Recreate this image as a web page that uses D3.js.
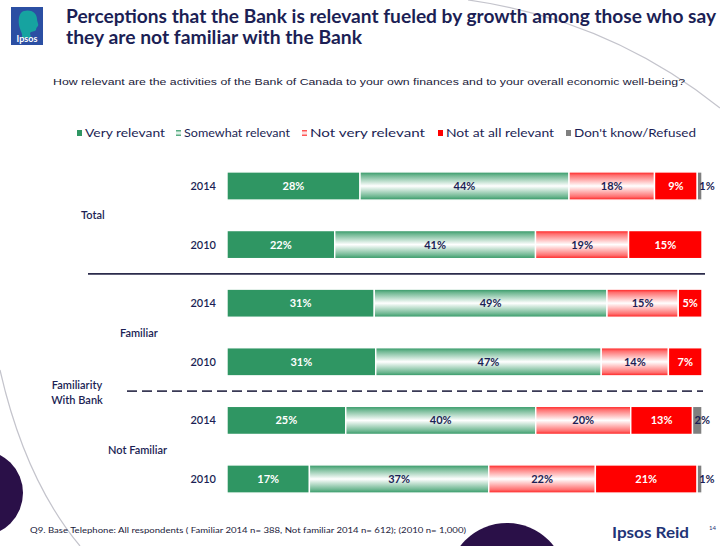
<!DOCTYPE html>
<html>
<head>
<meta charset="utf-8">
<script src="https://cdn.jsdelivr.net/npm/d3@7"></script>
<style>
  html, body { margin: 0; padding: 0; background: #ffffff; }
  svg { display: block; }
</style>
</head>
<body>
<svg id="chart" width="720" height="546"></svg>
<script>
// ---- data ----
const groups = ["Total", "Total", "Familiar", "Familiar", "Not Familiar", "Not Familiar"];
const years = ["2014", "2010", "2014", "2010", "2014", "2010"];
const seriesNames = ["Very relevant", "Somewhat relevant", "Not very relevant", "Not at all relevant", "Don't know/Refused"];
const veryRelevant = [28, 22, 31, 31, 25, 17];
const somewhatRelevant = [44, 41, 49, 47, 40, 37];
const notVeryRelevant = [18, 19, 15, 14, 20, 22];
const notAtAllRelevant = [9, 15, 5, 7, 13, 21];
const dontKnow = [1, 0, 0, 0, 2, 1];

const title1 = "Perceptions that the Bank  is relevant fueled by growth among those who say";
const title2 = "they are not familiar with the Bank";
const question = "How relevant  are the activities of the Bank of Canada to your own finances and to your overall economic well-being?";
const footnote = "Q9. Base Telephone: All respondents ( Familiar 2014 n= 388, Not familiar 2014 n= 612); (2010 n= 1,000)";

// ---- build rows ----
const keys = ["vr", "sr", "nv", "na", "dk"];
const rows = years.map((y, i) => ({
  id: i, group: groups[i], year: y,
  vr: veryRelevant[i], sr: somewhatRelevant[i], nv: notVeryRelevant[i],
  na: notAtAllRelevant[i], dk: dontKnow[i]
}));

const svg = d3.select("#chart");
const navy = "#1c1f55";
const green = "#2f9663";
const red = "#ff0000";
const grey = "#7f7f7f";

// ---- gradients for the banded fills ----
const defs = svg.append("defs");
function bandGradient(id, edge, mid) {
  const g = defs.append("linearGradient").attr("id", id)
    .attr("x1", 0).attr("y1", 0).attr("x2", 0).attr("y2", 1);
  [[0, edge], [0.12, edge], [0.5, mid], [0.88, edge], [1, edge]].forEach(([o, c]) => {
    g.append("stop").attr("offset", o).attr("stop-color", c);
  });
}
bandGradient("gSome", green, "#ffffff");
bandGradient("gNotVery", "#ff1a1a", "#ffffff");
// softer version of the edge ramp
defs.select("#gSome").selectAll("stop").filter((d, i) => i === 1 || i === 3).attr("stop-color", "#6cb690");
defs.select("#gNotVery").selectAll("stop").filter((d, i) => i === 1 || i === 3).attr("stop-color", "#ff7070");

const fills = { vr: green, sr: "url(#gSome)", nv: "url(#gNotVery)", na: red, dk: grey };
const labelColor = { vr: "#ffffff", sr: navy, nv: navy, na: "#ffffff", dk: navy };

// ---- background decoration ----
const deco = svg.append("g");
deco.append("path")
  .attr("d", "M468,0 Q610,20 720,108")
  .attr("fill", "none").attr("stroke", "#c4c4cc").attr("stroke-width", 1.2);
deco.append("path")
  .attr("d", "M0,370 Q25,480 80,546")
  .attr("fill", "none").attr("stroke", "#c4c4cc").attr("stroke-width", 1.2);
deco.append("circle").attr("cx", -20).attr("cy", 493).attr("r", 43).attr("fill", "#2a1048");
deco.append("circle").attr("cx", 507).attr("cy", 582).attr("r", 59).attr("fill", "#2a1048");

// ---- logo ----
const logo = svg.append("g");
logo.append("rect").attr("x", 11).attr("y", 7).attr("width", 32).attr("height", 38).attr("fill", "#2b4fa3");
logo.append("path")
  .attr("d", "M24,11 C30,9 37,12 37,19 C37,22 39,24 38,26 C37,27 36,28 36,30 C35,32 31,31 30,33 L31,38 L22,38 C23,33 20,31 19,25 C18,17 20,12 24,11 Z")
  .attr("fill", "#16a3a0");
logo.append("text").attr("x", 27).attr("y", 42)
  .attr("text-anchor", "middle")
  .attr("font-family", "Lato, sans-serif").attr("font-weight", "bold")
  .attr("font-size", 9).attr("fill", "#ffffff").text("Ipsos");

// ---- title and question ----
svg.append("text").attr("x", 66).attr("y", 23)
  .attr("font-family", "Lato, sans-serif").attr("font-weight", "bold")
  .attr("font-size", 18.5).attr("fill", navy)
  .attr("textLength", 650).attr("lengthAdjust", "spacingAndGlyphs")
  .text(title1);
svg.append("text").attr("x", 66).attr("y", 44)
  .attr("font-family", "Lato, sans-serif").attr("font-weight", "bold")
  .attr("font-size", 18.5).attr("fill", navy)
  .attr("textLength", 296).attr("lengthAdjust", "spacingAndGlyphs")
  .text(title2);
svg.append("text").attr("x", 53).attr("y", 85)
  .attr("font-family", "Liberation Sans, Arial, sans-serif")
  .attr("font-size", 9.5).attr("fill", "#1a1a3a")
  .attr("textLength", 632).attr("lengthAdjust", "spacingAndGlyphs")
  .text(question);

// ---- legend ----
const legendX = [77, 176, 302, 438, 566];
const legendW = [80, 106, 115, 108, 122];
const legendFill = [green, "url(#gSome)", "url(#gNotVery)", red, grey];
const legend = svg.append("g");
seriesNames.forEach((name, i) => {
  legend.append("rect").attr("x", legendX[i]).attr("y", 130).attr("width", 5).attr("height", 6)
    .attr("fill", legendFill[i]);
  legend.append("text").attr("x", legendX[i] + 8).attr("y", 136.5)
    .attr("font-family", "Lato, sans-serif").attr("font-size", 10.5).attr("fill", navy)
    .attr("textLength", legendW[i]).attr("lengthAdjust", "spacingAndGlyphs")
    .text(name);
});

// ---- scales ----
const x = d3.scaleLinear().domain([0, 1]).range([227, 702]);
const yBand = d3.scaleBand().domain(rows.map(r => r.id))
  .range([156.7, 508.3]).paddingInner(0.52).paddingOuter(0.26);

const stack = d3.stack().keys(keys).offset(d3.stackOffsetExpand);
const stacked = stack(rows);

// ---- bars ----
const barG = svg.append("g");
stacked.forEach(layer => {
  const k = layer.key;
  const segs = barG.append("g").selectAll("g").data(layer.filter(d => d.data[k] > 0)).join("g");
  segs.append("rect")
    .attr("x", d => x(d[0]))
    .attr("y", d => yBand(d.data.id))
    .attr("width", d => Math.max(0, x(d[1]) - x(d[0])))
    .attr("height", yBand.bandwidth())
    .attr("fill", fills[k])
    .attr("stroke", "#ffffff").attr("stroke-width", 1.4);
  segs.append("text")
    .attr("x", d => k === "dk" ? x(d[0]) + 2 : (x(d[0]) + x(d[1])) / 2)
    .attr("y", d => yBand(d.data.id) + yBand.bandwidth() / 2 + 4)
    .attr("text-anchor", k === "dk" ? "start" : "middle")
    .attr("font-family", "Lato, sans-serif").attr("font-weight", "bold")
    .attr("font-size", 11).attr("fill", labelColor[k])
    .text(d => d.data[k] + "%");
});

// ---- year labels ----
svg.append("g").selectAll("text").data(rows).join("text")
  .attr("x", 216)
  .attr("y", d => yBand(d.id) + yBand.bandwidth() / 2 + 4)
  .attr("text-anchor", "end")
  .attr("font-family", "Lato, sans-serif").attr("font-weight", 600)
  .attr("font-size", 11).attr("fill", navy)
  .text(d => d.year);

// ---- group labels ----
const groupNames = Array.from(new Set(groups));
const groupStartX = { "Total": 81, "Familiar": 120, "Not Familiar": 108 };
svg.append("g").selectAll("text").data(groupNames).join("text")
  .attr("x", g => groupStartX[g])
  .attr("y", g => {
    const ids = rows.filter(r => r.group === g).map(r => r.id);
    const c = ids.map(id => yBand(id) + yBand.bandwidth() / 2);
    return d3.mean(c) + 4;
  })
  .attr("font-family", "Lato, sans-serif").attr("font-weight", 600)
  .attr("font-size", 11).attr("fill", navy)
  .text(g => g);

const fam = svg.append("text").attr("text-anchor", "middle")
  .attr("font-family", "Lato, sans-serif").attr("font-weight", 600)
  .attr("font-size", 11).attr("fill", navy);
fam.append("tspan").attr("x", 77).attr("y", 389).text("Familiarity");
fam.append("tspan").attr("x", 77).attr("y", 404).text("With Bank");

// ---- separators ----
const midTotal = (yBand(1) + yBand.bandwidth() + yBand(2)) / 2;
const midFam = (yBand(3) + yBand.bandwidth() + yBand(4)) / 2;
svg.append("line").attr("x1", 88).attr("x2", 705).attr("y1", midTotal).attr("y2", midTotal)
  .attr("stroke", "#2b2b4b").attr("stroke-width", 1.6);
svg.append("line").attr("x1", 127).attr("x2", 703).attr("y1", midFam).attr("y2", midFam)
  .attr("stroke", "#3a3a55").attr("stroke-width", 1.6).attr("stroke-dasharray", "10,5");

// ---- footer ----
svg.append("text").attr("x", 30).attr("y", 533)
  .attr("font-family", "Lato, sans-serif").attr("font-size", 7).attr("fill", "#1a1a3a")
  .attr("textLength", 436).attr("lengthAdjust", "spacingAndGlyphs")
  .text(footnote);
svg.append("text").attr("x", 612).attr("y", 538)
  .attr("font-family", "Lato, sans-serif").attr("font-weight", "bold")
  .attr("font-size", 16).attr("fill", "#1f3577")
  .attr("textLength", 77).attr("lengthAdjust", "spacingAndGlyphs")
  .text("Ipsos Reid");
svg.append("text").attr("x", 709).attr("y", 530)
  .attr("font-family", "Lato, sans-serif").attr("font-size", 6).attr("fill", "#1f3577")
  .text("14");
</script>
</body>
</html>
